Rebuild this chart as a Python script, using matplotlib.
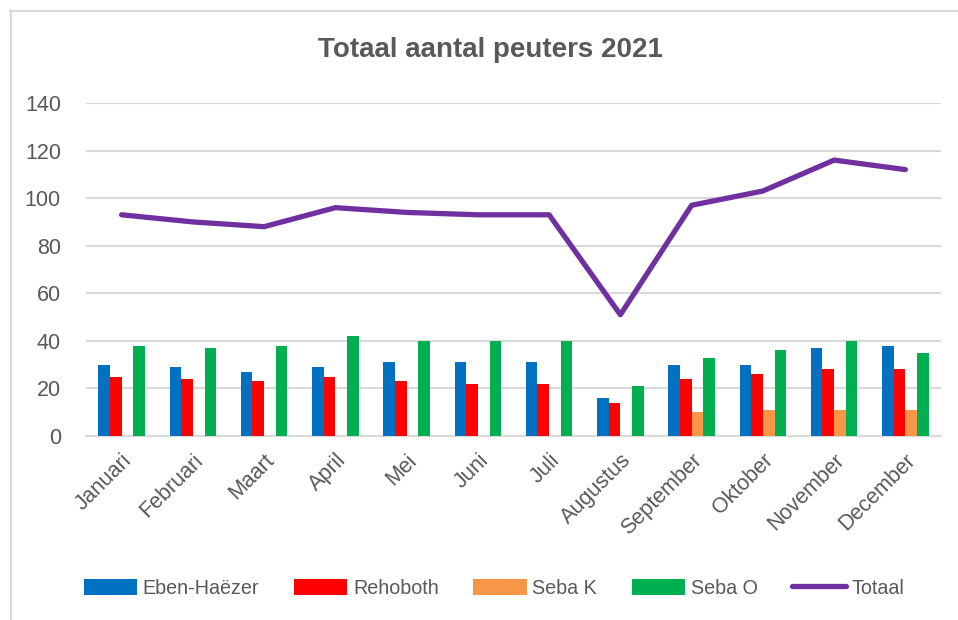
import matplotlib
matplotlib.use("Agg")
import matplotlib.pyplot as plt
import numpy as np
from matplotlib.lines import Line2D

months = ["Januari", "Februari", "Maart", "April", "Mei", "Juni", "Juli",
          "Augustus", "September", "Oktober", "November", "December"]
eben = [30, 29, 27, 29, 31, 31, 31, 16, 30, 30, 37, 38]
rehoboth = [25, 24, 23, 25, 23, 22, 22, 14, 24, 26, 28, 28]
seba_k = [0, 0, 0, 0, 0, 0, 0, 0, 10, 11, 11, 11]
seba_o = [38, 37, 38, 42, 40, 40, 40, 21, 33, 36, 40, 35]
totaal = [93, 90, 88, 96, 94, 93, 93, 51, 97, 103, 116, 112]
yticks = [0, 20, 40, 60, 80, 100, 120, 140]

plt.rcParams['font.family'] = ['Liberation Sans', 'DejaVu Sans']
txt = '#595959'
grid = '#d9d9d9'

fig = plt.figure(figsize=(9.58, 6.2), dpi=100)
ax = fig.add_axes([86/958, 184/620, (941-86)/958, (517-184)/620])

x = np.arange(len(months))
w = 0.164
series = [(eben, '#0070C0', 'Eben-Haëzer'), (rehoboth, '#FF0000', 'Rehoboth'),
          (seba_k, '#F79646', 'Seba K'), (seba_o, '#00B050', 'Seba O')]
handles = []
for i, (vals, col, lab) in enumerate(series):
    b = ax.bar(x + (i - 1.5) * w, vals, w, color=col, label=lab, zorder=3)
    handles.append(b)
ln, = ax.plot(x, totaal, color='#7030A0', lw=3.8, label='Totaal', zorder=4,
              solid_joinstyle='round', solid_capstyle='round')
handles.append(ln)

ax.set_xlim(-0.5, len(months) - 0.5)
ax.set_ylim(0, 140)
ax.set_yticks(yticks)
ax.set_yticklabels([str(v) for v in yticks])
ax.yaxis.grid(True, color=grid, lw=1.5, zorder=0)
ax.set_axisbelow(True)
for s in ['top', 'right', 'left']:
    ax.spines[s].set_visible(False)
ax.spines['bottom'].set_color(grid)
ax.spines['bottom'].set_linewidth(1.5)
ax.tick_params(axis='both', length=0, colors=txt, labelsize=15.5)
ax.tick_params(axis='y', pad=18)
ax.set_xticks(x)
ax.set_xticklabels(months, rotation=45, ha='right', va='top',
                   rotation_mode='anchor', fontsize=15.5, color=txt)
ax.tick_params(axis='x', pad=10)

fig.text(490/958, 1 - 50/620, 'Totaal aantal peuters 2021', ha='center',
         va='center', fontsize=20, fontweight='bold', color=txt)

leg = fig.legend(handles=handles, loc='center', bbox_to_anchor=(494/958, 1 - 588/620),
                 ncol=5, frameon=False, fontsize=14.2, handlelength=2.7,
                 handleheight=0.9, handletextpad=0.3, columnspacing=1.75)
for t in leg.get_texts():
    t.set_color(txt)

fig.add_artist(Line2D([10.5/958, 10.5/958], [0, 1 - 11/620], transform=fig.transFigure,
                      color=grid, lw=1.5))
fig.add_artist(Line2D([10/958, 1], [1 - 11/620, 1 - 11/620], transform=fig.transFigure,
                      color=grid, lw=1.5))

fig.savefig('out.png', dpi=100)
